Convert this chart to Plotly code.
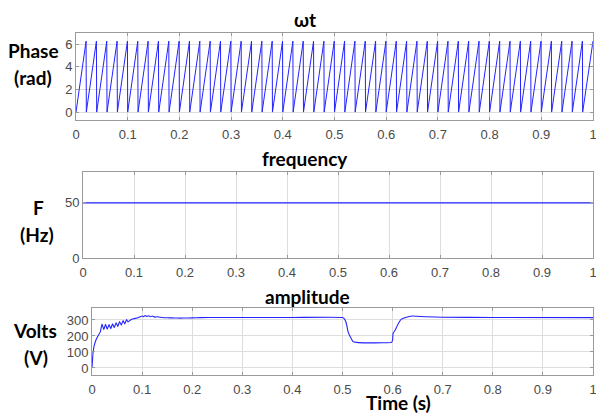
import plotly.graph_objects as go

# ---- data ----
PHASE_T = [0, 0.0195, 0.02, 0.0395, 0.04, 0.0595, 0.06, 0.0795, 0.08, 0.0995, 0.1,
           0.1195, 0.12, 0.1395, 0.14, 0.1595, 0.16, 0.1795, 0.18, 0.1995, 0.2,
           0.2195, 0.22, 0.2395, 0.24, 0.2595, 0.26, 0.2795, 0.28, 0.2995, 0.3,
           0.3195, 0.32, 0.3395, 0.34, 0.3595, 0.36, 0.3795, 0.38, 0.3995, 0.4,
           0.4195, 0.42, 0.4395, 0.44, 0.4595, 0.46, 0.4795, 0.48, 0.4995, 0.5,
           0.5195, 0.52, 0.5395, 0.54, 0.5595, 0.56, 0.5795, 0.58, 0.5995, 0.6,
           0.6195, 0.62, 0.6395, 0.64, 0.6595, 0.66, 0.6795, 0.68, 0.6995, 0.7,
           0.7195, 0.72, 0.7395, 0.74, 0.7595, 0.76, 0.7795, 0.78, 0.7995, 0.8,
           0.8195, 0.82, 0.8395, 0.84, 0.8595, 0.86, 0.8795, 0.88, 0.8995, 0.9,
           0.9195, 0.92, 0.9395, 0.94, 0.9595, 0.96, 0.9795, 0.98, 1.0]
PHASE_RAD = [0, 6.28, 0, 6.28, 0, 6.28, 0, 6.28, 0, 6.28, 0,
             6.28, 0, 6.28, 0, 6.28, 0, 6.28, 0, 6.28, 0,
             6.28, 0, 6.28, 0, 6.28, 0, 6.28, 0, 6.28, 0,
             6.28, 0, 6.28, 0, 6.28, 0, 6.28, 0, 6.28, 0,
             6.28, 0, 6.28, 0, 6.28, 0, 6.28, 0, 6.28, 0,
             6.28, 0, 6.28, 0, 6.28, 0, 6.28, 0, 6.28, 0,
             6.28, 0, 6.28, 0, 6.28, 0, 6.28, 0, 6.28, 0,
             6.28, 0, 6.28, 0, 6.28, 0, 6.28, 0, 6.28, 0,
             6.28, 0, 6.28, 0, 6.28, 0, 6.28, 0, 6.28, 0,
             6.28, 0, 6.28, 0, 6.28, 0, 6.28, 0, 6.28]

FREQ_T = [0, 1]
FREQ_HZ = [50, 50]

AMP_T = [0, 0.002, 0.0047, 0.008, 0.0113, 0.0167,
         0.020, 0.0235, 0.027, 0.0305, 0.034, 0.0375, 0.041, 0.0445, 0.048,
         0.0515, 0.055, 0.0585, 0.062, 0.0655, 0.069, 0.072,
         0.077, 0.083, 0.09, 0.096, 0.100, 0.103, 0.106, 0.110, 0.113, 0.117,
         0.120, 0.125, 0.130, 0.140, 0.150, 0.160, 0.170, 0.183, 0.200, 0.216,
         0.250, 0.300, 0.400, 0.500,
         0.503, 0.5066, 0.509, 0.511, 0.516, 0.521, 0.528, 0.550, 0.580, 0.598,
         0.600, 0.601, 0.605, 0.610, 0.617, 0.626, 0.640, 0.666, 0.700, 0.800, 1.0]
AMP_V = [0, 92, 144, 175, 196, 227,
         275, 240, 273, 242, 272, 246, 276, 252, 283,
         260, 290, 268, 296, 276, 302, 288,
         300, 308, 312, 320, 325, 321, 328, 322, 327, 320,
         325, 318, 320, 316, 314, 313, 312, 312, 313, 315,
         316, 316, 316, 316,
         310, 289, 260, 227, 192, 165, 160, 157, 158, 160,
         175, 217, 236, 269, 304, 316, 325, 320, 317, 316, 315]

X_TICKS = [0, 0.1, 0.2, 0.3, 0.4, 0.5, 0.6, 0.7, 0.8, 0.9, 1]
X_TICK_TEXT = ["0", "0.1", "0.2", "0.3", "0.4", "0.5", "0.6", "0.7", "0.8", "0.9", "1"]
PHASE_TICKS = [0, 2, 4, 6]
FREQ_TICKS = [0, 50]
AMP_TICKS = [0, 100, 200, 300]

W, H = 596, 413
LINE = "#2323ff"
FRAME = "#9a9a9a"
GRID = "#dedede"
TICKFONT = dict(family="Liberation Sans, Arial, sans-serif", size=13, color="#4a4a4a")
LABELFONT = dict(family="Lato, Open Sans, sans-serif", size=19, color="#000000")


def px(x):
    return x / W


def py(y):
    return 1 - y / H


fig = go.Figure()
fig.add_trace(go.Scatter(x=PHASE_T, y=PHASE_RAD, mode="lines", xaxis="x", yaxis="y",
                         line=dict(color=LINE, width=1), showlegend=False))
fig.add_trace(go.Scatter(x=FREQ_T, y=FREQ_HZ, mode="lines", xaxis="x2", yaxis="y2",
                         line=dict(color=LINE, width=1.3), showlegend=False))
fig.add_trace(go.Scatter(x=AMP_T, y=AMP_V, mode="lines", xaxis="x3", yaxis="y3",
                         line=dict(color=LINE, width=1.1, shape="spline", smoothing=0.4),
                         showlegend=False))

axis_common = dict(showline=True, linecolor=FRAME, linewidth=1, mirror="allticks",
                   showgrid=True, gridcolor=GRID, gridwidth=1, zeroline=False,
                   ticks="inside", ticklen=3, tickcolor=FRAME, tickfont=TICKFONT,
                   automargin=False, fixedrange=True, ticklabeloverflow="allow")

xcommon = dict(axis_common, range=[0, 1], tickvals=X_TICKS, ticktext=X_TICK_TEXT,
               ticklabelstandoff=2)

fig.update_layout(
    width=W, height=H,
    margin=dict(l=0, r=0, t=0, b=0),
    paper_bgcolor="white", plot_bgcolor="white",
    xaxis=dict(xcommon, domain=[px(76), px(593)], anchor="y"),
    yaxis=dict(axis_common, domain=[py(120), py(33)], anchor="x", range=[-0.7, 7],
               tickvals=PHASE_TICKS),
    xaxis2=dict(xcommon, domain=[px(83), px(593)], anchor="y2"),
    yaxis2=dict(axis_common, domain=[py(258), py(172)], anchor="x2", range=[0, 78],
                tickvals=FREQ_TICKS),
    xaxis3=dict(xcommon, domain=[px(92), px(593)], anchor="y3"),
    yaxis3=dict(axis_common, domain=[py(375), py(308)], anchor="x3", range=[-44, 375],
                tickvals=AMP_TICKS),
)

labels = [
    ("<b>ωt</b>", 305, 20),
    ("<b>frequency</b>", 305, 158),
    ("<b>amplitude</b>", 307, 296),
    ("<b>Phase</b>", 33, 51),
    ("<b>(rad)</b>", 33, 78),
    ("<b>F</b>", 38, 207),
    ("<b>(Hz)</b>", 37, 234),
    ("<b>Volts</b>", 35, 330),
    ("<b>(V)</b>", 36, 357),
    ("<b>Time (s)</b>", 398, 402),
]
for text, x, y in labels:
    fig.add_annotation(text=text, x=px(x), y=py(y), xref="paper", yref="paper",
                       xanchor="center", yanchor="middle", showarrow=False,
                       font=LABELFONT)

fig.write_html("out.html",
               config={"displayModeBar": False},
               post_script="document.body.style.margin='0';"
                           "document.body.style.overflow='hidden';")
